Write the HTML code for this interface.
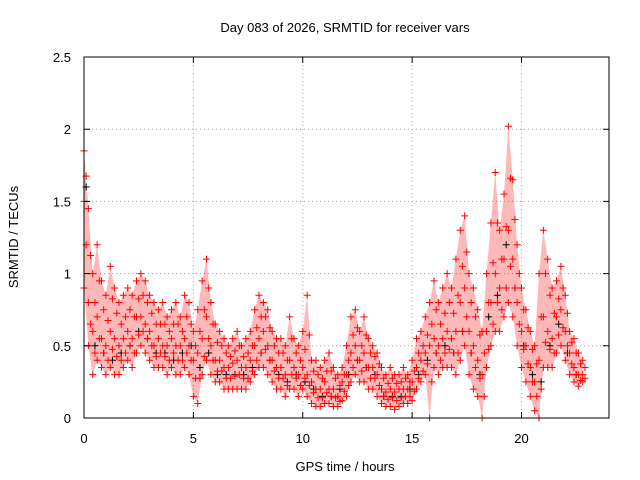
<!DOCTYPE html>
<html><head><meta charset="utf-8"><style>
body{margin:0;background:#fff;}
svg{display:block;font-family:"Liberation Sans",sans-serif;}
</style></head><body>
<svg id="chart" width="640" height="480" viewBox="0 0 640 480" xmlns="http://www.w3.org/2000/svg">
<rect width="640" height="480" fill="#fff"/>
<text x="345" y="32" font-size="13" text-anchor="middle">Day 083 of 2026, SRMTID for receiver vars</text>
<text x="345" y="471" font-size="13" text-anchor="middle">GPS time / hours</text>
<text x="0" y="0" font-size="13" text-anchor="middle" transform="translate(18,237) rotate(-90)">SRMTID / TECUs</text>
<g id="grid"></g><g id="marks"></g><g id="axes"></g>
</svg>
<script>
const xTicks=[0,5,10,15,20];
const yTicks=[0,0.5,1,1.5,2,2.5];
const yTickLabels=["0","0.5","1","1.5","2","2.5"];
const redTimes=[0,0.2,0.4,0.6,0.8,1,1.2,1.4,1.6,1.8,2,2.2,2.4,2.6,2.8,3,3.2,3.4,3.6,3.8,4,4.2,4.4,4.6,4.8,5,5.2,5.4,5.6,5.8,6,6.2,6.4,6.6,6.8,7,7.2,7.4,7.6,7.8,8,8.2,8.4,8.6,8.8,9,9.2,9.4,9.6,9.8,10,10.2,10.4,10.6,10.8,11,11.2,11.4,11.6,11.8,12,12.2,12.4,12.6,12.8,13,13.2,13.4,13.6,13.8,14,14.2,14.4,14.6,14.8,15,15.2,15.4,15.6,15.8,16,16.2,16.4,16.6,16.8,17,17.2,17.4,17.6,17.8,18,18.2,18.4,18.6,18.8,19,19.2,19.4,19.6,19.8,20,20.2,20.4,20.6,20.8,21,21.2,21.4,21.6,21.8,22,22.2,22.4,22.6,22.8];
const redHigh=[1.85,1.45,1.0,1.2,0.95,0.85,1.05,0.9,0.8,0.85,0.9,0.85,0.95,1.0,0.95,0.85,0.8,0.75,0.8,0.7,0.75,0.8,0.7,0.85,0.8,0.6,0.75,0.95,1.1,0.8,0.65,0.6,0.55,0.5,0.55,0.6,0.5,0.55,0.6,0.75,0.85,0.8,0.75,0.6,0.55,0.55,0.5,0.7,0.55,0.5,0.6,0.85,0.4,0.4,0.35,0.4,0.45,0.35,0.3,0.35,0.5,0.7,0.75,0.6,0.7,0.55,0.5,0.45,0.35,0.3,0.35,0.3,0.3,0.35,0.3,0.4,0.55,0.6,0.7,0.8,0.95,0.8,0.9,1.0,0.9,1.1,1.3,1.4,1.0,0.9,0.75,0.6,1.0,1.35,1.7,1.3,1.55,2.02,1.65,1.2,0.9,0.75,0.6,0.5,1.0,1.3,1.1,0.9,0.95,1.05,0.85,0.6,0.55,0.45,0.4];
const redMid=[1.5,0.8,0.6,0.7,0.55,0.5,0.6,0.55,0.5,0.55,0.6,0.55,0.7,0.7,0.65,0.6,0.5,0.55,0.5,0.5,0.55,0.5,0.5,0.55,0.5,0.4,0.45,0.55,0.7,0.5,0.4,0.4,0.35,0.35,0.38,0.4,0.35,0.35,0.4,0.5,0.55,0.6,0.5,0.4,0.35,0.35,0.3,0.4,0.35,0.3,0.35,0.3,0.25,0.2,0.2,0.25,0.2,0.2,0.15,0.25,0.3,0.45,0.5,0.4,0.45,0.35,0.35,0.3,0.2,0.18,0.2,0.18,0.2,0.2,0.2,0.25,0.35,0.4,0.45,0.5,0.55,0.5,0.55,0.6,0.55,0.6,0.8,0.9,0.6,0.5,0.4,0.3,0.6,0.8,1.0,0.9,1.1,1.3,1.1,0.8,0.6,0.5,0.35,0.25,0.4,0.7,0.6,0.55,0.7,0.75,0.6,0.45,0.35,0.3,0.3];
const redLow=[0.9,0.5,0.3,0.4,0.35,0.3,0.35,0.3,0.3,0.35,0.4,0.35,0.45,0.5,0.45,0.4,0.35,0.35,0.35,0.3,0.35,0.3,0.3,0.35,0.3,0.15,0.1,0.3,0.4,0.3,0.25,0.25,0.2,0.2,0.2,0.2,0.2,0.2,0.25,0.3,0.35,0.35,0.3,0.25,0.2,0.2,0.15,0.2,0.2,0.15,0.2,0.15,0.1,0.08,0.08,0.1,0.1,0.08,0.08,0.12,0.15,0.25,0.3,0.25,0.25,0.2,0.2,0.15,0.1,0.08,0.08,0.06,0.08,0.1,0.1,0.12,0.2,0.25,0.3,0.0,0.35,0.3,0.35,0.35,0.35,0.3,0.4,0.5,0.3,0.2,0.15,0.0,0.35,0.5,0.6,0.6,0.7,0.8,0.7,0.5,0.35,0.25,0.15,0.05,0.0,0.35,0.35,0.35,0.45,0.5,0.4,0.3,0.25,0.22,0.25];
const blackTimes=[0.1,0.5,0.9,1.3,1.7,2.1,2.5,2.9,3.3,3.7,4.1,4.5,4.9,5.3,5.7,6.1,6.5,6.9,7.3,7.7,8.1,8.5,8.9,9.3,9.7,10.1,10.5,10.9,11.3,11.7,12.1,12.5,12.9,13.3,13.7,14.1,14.5,14.9,15.3,15.7,16.1,16.5,16.9,17.3,17.7,18.1,18.5,18.9,19.3,19.7,20.1,20.5,20.9,21.3,21.7,22.1,22.5];
const blackValues=[1.6,0.5,0.45,0.4,0.45,0.5,0.6,0.55,0.45,0.45,0.4,0.45,0.5,0.35,0.45,0.3,0.3,0.3,0.3,0.35,0.45,0.4,0.3,0.25,0.3,0.25,0.2,0.15,0.15,0.2,0.3,0.4,0.35,0.3,0.15,0.15,0.15,0.2,0.3,0.4,0.45,0.5,0.45,0.6,0.45,0.3,0.7,0.85,1.2,0.9,0.5,0.3,0.25,0.5,0.65,0.45,0.3];

const X0=84,X1=609,Y0=418,Y1=57,XMAX=24,YMAX=2.5;
const sx=v=>X0+(X1-X0)*v/XMAX;
const sy=v=>Y0-(Y0-Y1)*v/YMAX;
const NS="http://www.w3.org/2000/svg";
const grid=document.getElementById('grid'),marks=document.getElementById('marks'),axes=document.getElementById('axes');
function mk(tag,attrs,parent){const e=document.createElementNS(NS,tag);for(const k in attrs)e.setAttribute(k,attrs[k]);parent.appendChild(e);return e;}

xTicks.forEach(t=>{
 if(t>0){const g=mk('line',{x1:sx(t),x2:sx(t),y1:Y0,y2:Y1,stroke:'#a0a0a0','stroke-width':1,'stroke-dasharray':'1,3'},grid);
 
 }
 const tk=mk('path',{d:`M${sx(t)},${Y0}v-6M${sx(t)},${Y1}v6`,stroke:'#000','stroke-width':1},axes);
 
 
 const lb=mk('text',{x:sx(t),y:443,'font-size':13,'text-anchor':'middle'},axes);lb.textContent=String(t);
 
 
});
yTicks.forEach((t,i)=>{
 if(t>0&&t<YMAX){const g=mk('line',{x1:X0,x2:X1,y1:sy(t),y2:sy(t),stroke:'#a0a0a0','stroke-width':1,'stroke-dasharray':'1,3'},grid);
 
 }
 const tk=mk('path',{d:`M${X0},${sy(t)}h6M${X1},${sy(t)}h-6`,stroke:'#000','stroke-width':1},axes);
 
 
 const lb=mk('text',{x:71,y:sy(t)+5,'font-size':13,'text-anchor':'end'},axes);lb.textContent=yTickLabels[i];
 
 
});
const frame=mk('rect',{x:X0,y:Y1,width:X1-X0,height:Y0-Y1,fill:'none',stroke:'#000','stroke-width':1},axes);



// density band from low to high envelope
let d='M'+redTimes.map((t,i)=>sx(t)+','+sy(redHigh[i])).join('L');
for(let i=redTimes.length-1;i>=0;i--)d+='L'+sx(redTimes[i])+','+sy(redLow[i]);
const band=mk('path',{d:d+'Z',fill:'rgba(255,0,0,0.28)',stroke:'none'},marks);



function cross(t,v,color,name){
 const p=mk('path',{d:`M${sx(t)-3.5},${sy(v)}h7M${sx(t)},${sy(v)-3.5}v7`,stroke:color,'stroke-width':1},marks);
 
 
}
blackTimes.forEach((t,i)=>cross(t,blackValues[i],'#000','black-point'));
[redLow,redMid,redHigh].forEach(arr=>redTimes.forEach((t,i)=>cross(t,arr[i],'#f00','red-point')));
redTimes.forEach((t,i)=>cross(t+0.1,(redLow[i]+redMid[i])/2,'#f00','red-point'));
redTimes.forEach((t,i)=>cross(t+0.1,(redMid[i]+redHigh[i])/2,'#f00','red-point'));
</script>
</body></html>
